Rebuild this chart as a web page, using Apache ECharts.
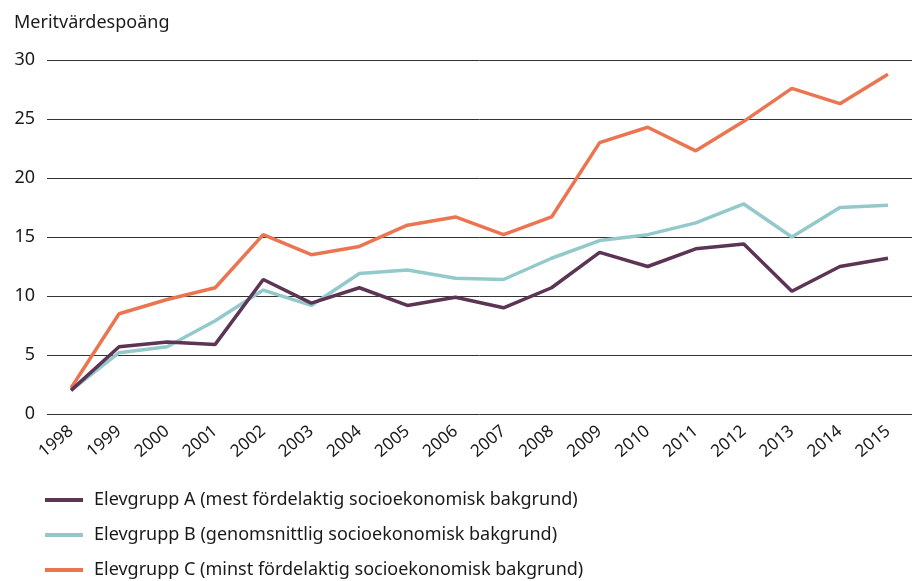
<!DOCTYPE html>
<html>
<head>
<meta charset="utf-8">
<script src="https://cdn.jsdelivr.net/npm/echarts@6/dist/echarts.min.js"></script>
<style>
  html, body { margin: 0; padding: 0; background: #fff; }
  #chart { width: 913px; height: 581px; }
</style>
</head>
<body>
<div id="chart"></div>
<script>
// år
const years = ["1998", "1999", "2000", "2001", "2002", "2003", "2004", "2005", "2006",
  "2007", "2008", "2009", "2010", "2011", "2012", "2013", "2014", "2015"];
// Elevgrupp A
const groupA = [2.0, 5.7, 6.1, 5.9, 11.4, 9.4, 10.7, 9.2, 9.9, 9.0, 10.7, 13.7, 12.5, 14.0, 14.4, 10.4, 12.5, 13.2];
// Elevgrupp B
const groupB = [2.0, 5.2, 5.7, 7.9, 10.5, 9.2, 11.9, 12.2, 11.5, 11.4, 13.2, 14.7, 15.2, 16.2, 17.8, 15.0, 17.5, 17.7];
// Elevgrupp C
const groupC = [2.2, 8.5, 9.7, 10.7, 15.2, 13.5, 14.2, 16.0, 16.7, 15.2, 16.7, 23.0, 24.3, 22.3, 24.8, 27.6, 26.3, 28.8];
const yTicks = [0, 5, 10, 15, 20, 25, 30];

const names = [
  "Elevgrupp A (mest fördelaktig socioekonomisk bakgrund)",
  "Elevgrupp B (genomsnittlig socioekonomisk bakgrund)",
  "Elevgrupp C (minst fördelaktig socioekonomisk bakgrund)"
];
const colors = ["#5c3454", "#93c9cb", "#ec7551"];
const font = "'Noto Sans', sans-serif";

const myChart = echarts.init(document.getElementById("chart"));

const option = {
  animation: false,
  textStyle: { fontFamily: font },
  title: {
    text: "Meritvärdespoäng",
    left: 9,
    top: 9,
    textStyle: { fontFamily: font, fontSize: 18, fontWeight: "normal", color: "#1a1a1a" }
  },
  grid: { left: 47, right: 1, top: 60, bottom: 167 },
  legend: {
    orient: "vertical",
    left: 45,
    top: 491,
    height: 90,
    padding: 0,
    itemWidth: 38,
    itemHeight: 4,
    itemGap: 17,
    icon: "rect",
    textStyle: { fontFamily: font, fontSize: 18, color: "#1a1a1a", lineHeight: 18, padding: [0, 0, 0, 6] },
    data: names
  },
  xAxis: {
    type: "category",
    boundaryGap: true,
    data: years,
    axisLine: { show: false },
    axisTick: { show: false },
    axisLabel: {
      interval: 0,
      rotate: 40,
      margin: 15,
      color: "#1a1a1a",
      fontSize: 17,
      fontFamily: font
    }
  },
  yAxis: {
    type: "value",
    min: yTicks[0],
    max: yTicks[yTicks.length - 1],
    interval: 5,
    axisLine: { show: false },
    axisTick: { show: false },
    axisLabel: { color: "#1a1a1a", fontSize: 18, margin: 12, fontFamily: font },
    splitLine: { lineStyle: { color: "#333", width: 1 } }
  },
  series: [groupA, groupB, groupC].map((d, i) => ({
    name: names[i],
    type: "line",
    data: d,
    symbol: "none",
    lineStyle: { color: colors[i], width: 3.5 },
    itemStyle: { color: colors[i] },
    z: 3 - i
  }))
};

myChart.setOption(option);
</script>
</body>
</html>
